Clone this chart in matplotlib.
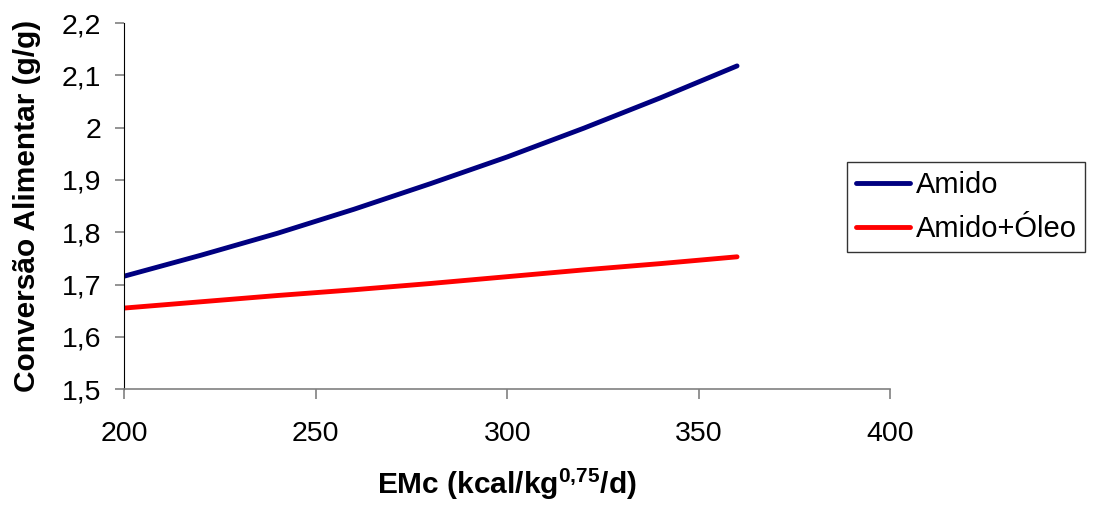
import matplotlib
matplotlib.use("Agg")
import matplotlib.pyplot as plt
from matplotlib.ticker import FuncFormatter, MultipleLocator

plt.rcParams['font.family'] = ['Liberation Sans', 'DejaVu Sans']
plt.rcParams['mathtext.fontset'] = 'custom'
plt.rcParams['mathtext.rm'] = 'Liberation Sans'
plt.rcParams['mathtext.bf'] = 'Liberation Sans:bold'

# EMc (kcal/kg^0.75/d)
emc = [200, 220, 240, 260, 280, 300, 320, 340, 360]
# Conversao alimentar (g/g)
amido = [1.716, 1.756, 1.798, 1.844, 1.893, 1.944, 1.999, 2.057, 2.118]
amido_oleo = [1.655, 1.667, 1.679, 1.690, 1.702, 1.715, 1.728, 1.740, 1.753]

fig = plt.figure(figsize=(10.95, 5.12), dpi=100)
ax = fig.add_axes([0.1135, 0.240, 0.6995, 0.715])

ax.plot(emc, amido, color='#000080', lw=3.5, label='Amido', solid_capstyle='round')
ax.plot(emc, amido_oleo, color='#FF0000', lw=3.5, label='Amido+Óleo', solid_capstyle='round')

ax.set_xlim(200, 400)
ax.set_ylim(1.5, 2.2)
ax.xaxis.set_major_locator(MultipleLocator(50))
ax.yaxis.set_major_locator(MultipleLocator(0.1))
ax.yaxis.set_major_formatter(FuncFormatter(lambda v, p: ('%g' % round(v, 2)).replace('.', ',')))

for s in ['top', 'right']:
    ax.spines[s].set_visible(False)
ax.spines['left'].set_color('black')
ax.spines['bottom'].set_color('#808080')
ax.spines['bottom'].set_linewidth(1.2)
ax.tick_params(axis='both', direction='out', color='#808080', width=1.2, labelsize=20.5)
ax.tick_params(axis='y', length=6.5, pad=10)
ax.tick_params(axis='x', length=7, pad=16)

ax.set_ylabel('Conversão Alimentar (g/g)', fontsize=21.5, fontweight='bold', labelpad=15)
ax.set_xlabel(r'EMc (kcal/kg$^{\mathbf{0{,}75}}$/d)', fontsize=21.5, fontweight='bold', labelpad=14)

leg = fig.legend(loc='upper left', bbox_to_anchor=(847 / 1095, 1 - 162 / 512), fontsize=21,
                 frameon=True, fancybox=False, edgecolor='black', handlelength=1.85,
                 handletextpad=0.2, borderpad=0.3, labelspacing=0.55, borderaxespad=0)
leg.get_frame().set_linewidth(1.0)

fig.savefig('out.png', dpi=100)
